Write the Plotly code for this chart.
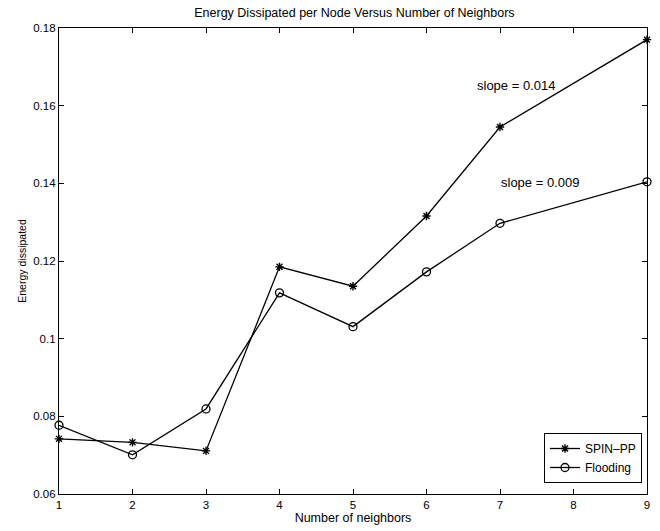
import plotly.graph_objects as go

neighbors = [1, 2, 3, 4, 5, 6, 7, 8, 9]
spin_pp = [0.0742, 0.0733, 0.0711, 0.1185, 0.1135, 0.1316, 0.1545, None, 0.1770]
flooding = [0.0777, 0.0701, 0.0819, 0.1118, 0.1031, 0.1172, 0.1297, None, 0.1404]

x_ticks = [1, 2, 3, 4, 5, 6, 7, 8, 9]
y_ticks = [0.06, 0.08, 0.10, 0.12, 0.14, 0.16, 0.18]
y_labels = ["0.06", "0.08", "0.1", "0.12", "0.14", "0.16", "0.18"]

font = "Liberation Sans, Arial, sans-serif"

fig = go.Figure()
fig.add_trace(go.Scatter(x=neighbors, y=spin_pp, name="SPIN\u2013PP", mode="lines+markers",
                         connectgaps=True, cliponaxis=False,
                         line=dict(color="black", width=1.3),
                         marker=dict(symbol="asterisk-open", size=7, color="black",
                                     line=dict(color="black", width=1.4))))
fig.add_trace(go.Scatter(x=neighbors, y=flooding, name="Flooding", mode="lines+markers",
                         connectgaps=True, cliponaxis=False,
                         line=dict(color="black", width=1.3),
                         marker=dict(symbol="circle-open", size=8, color="black",
                                     line=dict(color="black", width=1.3))))

fig.add_annotation(x=7.22, y=0.1653, text="slope = 0.014", showarrow=False,
                   font=dict(size=13, color="black", family=font))
fig.add_annotation(x=7.55, y=0.1401, text="slope = 0.009", showarrow=False,
                   font=dict(size=13, color="black", family=font))

axis_style = dict(showline=True, linecolor="black", linewidth=1.2, mirror="ticks",
                  ticks="inside", ticklen=5, tickcolor="black", showgrid=False,
                  zeroline=False, tickfont=dict(size=11.5, color="black", family=font))
fig.update_xaxes(range=[1, 9], tickvals=x_ticks, **axis_style,
                 title=dict(text="Number of neighbors", standoff=1,
                            font=dict(size=12.5, color="black", family=font)))
fig.update_yaxes(range=[0.06, 0.18], tickvals=y_ticks, ticktext=y_labels, **axis_style,
                 title=dict(text="Energy dissipated", standoff=4,
                            font=dict(size=10.5, color="black", family=font)))

fig.update_layout(
    width=660, height=531,
    plot_bgcolor="white", paper_bgcolor="white",
    margin=dict(l=59, r=10, t=28, b=37),
    title=dict(text="Energy Dissipated per Node Versus Number of Neighbors",
               x=0.537, xanchor="center", y=0.977, yanchor="middle",
               font=dict(size=12.5, color="black", family=font)),
    legend=dict(x=0.9915, y=0.0236, xanchor="right", yanchor="bottom",
                bgcolor="white", bordercolor="black", borderwidth=1,
                font=dict(size=12, color="black", family=font),
                tracegroupgap=0, itemwidth=30),
)

fig.write_html("out.html", config={"displayModeBar": False},
               post_script="document.body.style.margin='0';")
